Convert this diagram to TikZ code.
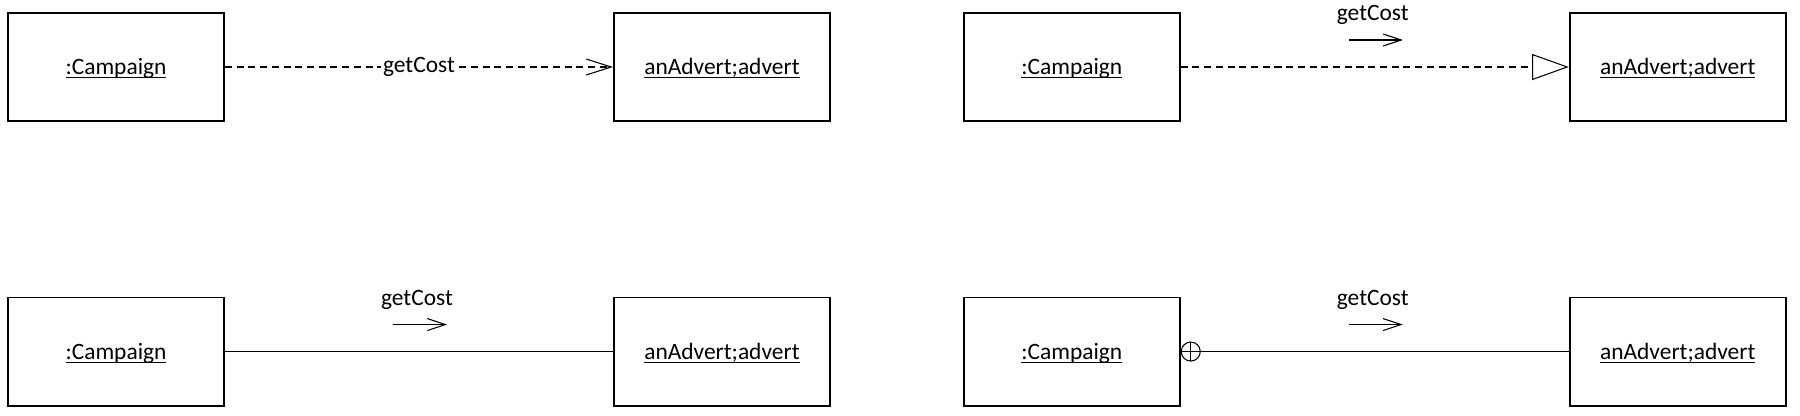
\documentclass[tikz,border=0pt]{standalone}
\usepackage{fontspec}
\setmainfont{Carlito}
\usetikzlibrary{arrows.meta,positioning,calc}
\newcommand{\objname}[1]{\setbox0\hbox{#1}\rlap{\rule[-1.6pt]{\wd0}{0.5pt}}\box0}

\begin{document}
\begin{tikzpicture}[x=0.15mm,y=-0.15mm,
  obj/.style={draw,line width=0.8pt,minimum width=32.4mm,minimum height=16.2mm,inner sep=0pt,
    text height=6.4pt,text depth=0pt},
  link/.style={line width=0.45pt},
  dep/.style={link,dash pattern=on 3pt off 2pt},
  nest/.style={draw,circle,line width=0.45pt,minimum size=2.85mm,inner sep=0pt,
    path picture={\draw[line width=0.45pt] (path picture bounding box.north) -- (path picture bounding box.south)
      (path picture bounding box.west) -- (path picture bounding box.east);}},
  msg/.style={link,-{Straight Barb[length=2.7mm,width=1.8mm]}}]
\useasboundingbox (0,0) rectangle (1800,415);
% top row
\node[obj] (c1) at (116,67) {\objname{:Campaign}};
\node[obj,right=58.2mm of c1] (a1) {\objname{anAdvert;advert}};
\node[obj,right=19.8mm of a1] (c2) {\objname{:Campaign}};
\node[obj,right=58.2mm of c2] (a2) {\objname{anAdvert;advert}};
% bottom row
\node[obj,below=26.2mm of c1] (c3) {\objname{:Campaign}};
\node[obj,right=58.2mm of c3] (a3) {\objname{anAdvert;advert}};
\node[obj,right=19.8mm of a3] (c4) {\objname{:Campaign}};
\node[obj,right=58.2mm of c4] (a4) {\objname{anAdvert;advert}};
\node[nest,right=0pt of c4] (n4) {};

\draw[dep,-{Straight Barb[length=3.75mm,width=2.4mm]}] (c1) -- node[fill=white,inner sep=1pt] (l1) {getCost} (a1);
\draw[dep,-{Triangle[open,length=5.5mm,width=3.9mm]}] (c2) -- (a2);
\draw[link] (c3) -- (a3);
\draw[link] (n4) -- (a4);

% message labels and arrows
\coordinate (m2) at ($(c2.east)!0.5!(a2.west)$);
\coordinate (m3) at ($(c3.east)!0.5!(a3.west)$);
\coordinate (m4) at ($(c4.east)!0.5!(a4.west)$);
\node (l2) at ($(m2)+(-2,-52)$) {getCost};
\node (l3) at ($(m3)+(-2,-52)$) {getCost};
\node (l4) at ($(m4)+(-2,-52)$) {getCost};
\coordinate (s2) at ($(m2)+(-26,-27)$);
\coordinate (t2) at ($(m2)+(28,-27)$);
\coordinate (s3) at ($(m3)+(-26,-27)$);
\coordinate (t3) at ($(m3)+(28,-27)$);
\coordinate (s4) at ($(m4)+(-26,-27)$);
\coordinate (t4) at ($(m4)+(28,-27)$);
\draw[msg] (s2) -- (t2);
\draw[msg] (s3) -- (t3);
\draw[msg] (s4) -- (t4);
\end{tikzpicture}
\end{document}
